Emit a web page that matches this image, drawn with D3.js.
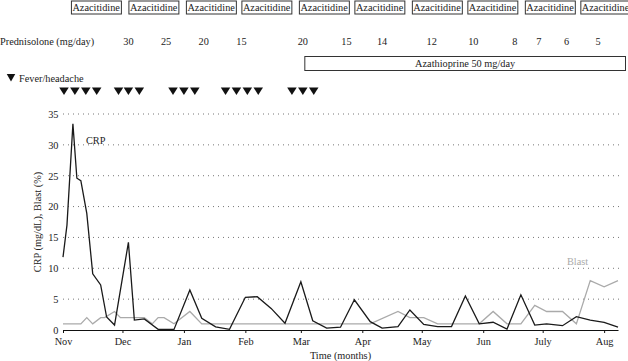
<!DOCTYPE html>
<html>
<head>
<meta charset="utf-8">
<script src="https://cdn.jsdelivr.net/npm/d3@7"></script>
<style>
  body { margin: 0; background: #fff; }
  svg text { font-family: "Liberation Serif", "DejaVu Serif", serif; }
</style>
</head>
<body>
<svg id="chart" width="628" height="361"></svg>
<script>
// CRP (mg/dL) readings
const crpDates = [
  "2013-11-01", "2013-11-03", "2013-11-06", "2013-11-08", "2013-11-10", "2013-11-13",
  "2013-11-16", "2013-11-20", "2013-11-23", "2013-11-27", "2013-12-04", "2013-12-07",
  "2013-12-12", "2013-12-19", "2013-12-27", "2014-01-04", "2014-01-10", "2014-01-17",
  "2014-01-24", "2014-02-01", "2014-02-07", "2014-02-14", "2014-02-21", "2014-03-01",
  "2014-03-07", "2014-03-14", "2014-03-21", "2014-03-28", "2014-04-05", "2014-04-11",
  "2014-04-19", "2014-04-25", "2014-05-02", "2014-05-09", "2014-05-16", "2014-05-23",
  "2014-05-30", "2014-06-06", "2014-06-13", "2014-06-20", "2014-06-27", "2014-07-03",
  "2014-07-11", "2014-07-18", "2014-07-25", "2014-08-01", "2014-08-08"
];
const crpValues = [
  11.8, 17, 33.4, 24.6, 24.2, 18.9,
  9.1, 7.3, 2.1, 0.8, 14.2, 1.6,
  1.8, 0.1, 0.1, 6.5, 1.9, 0.5,
  0.1, 5.3, 5.4, 3.5, 1.1, 7.8,
  1.5, 0.3, 0.45, 4.9, 1.35, 0.3,
  0.55, 3.25, 0.9, 0.55, 0.55, 5.5,
  1.0, 1.25, 0.15, 5.7, 0.8, 1.0,
  0.7, 2.15, 1.6, 1.25, 0.45
];

// Blast (%) readings
const blastDates = [
  "2013-11-01", "2013-11-10", "2013-11-13", "2013-11-16", "2013-11-20", "2013-11-22",
  "2013-11-27", "2013-11-30", "2013-12-07", "2013-12-12", "2013-12-16", "2013-12-19",
  "2013-12-22", "2013-12-27", "2014-01-04", "2014-01-10", "2014-04-05", "2014-04-19",
  "2014-04-25", "2014-05-02", "2014-05-09", "2014-05-30", "2014-06-06", "2014-06-13",
  "2014-06-20", "2014-06-27", "2014-07-03", "2014-07-11", "2014-07-18", "2014-07-25",
  "2014-08-01", "2014-08-08"
];
const blastValues = [
  1, 1, 2, 1, 2, 2,
  3, 2, 2, 2, 1, 2,
  2, 1, 3, 1, 1, 3,
  2, 2, 1, 1, 3, 1,
  1, 4, 3, 3, 1, 8,
  7, 8
];

// Azacitidine cycles (start dates)
const azacitidineStarts = [
  "2013-11-05", "2013-12-04", "2014-01-02", "2014-01-30", "2014-02-28",
  "2014-03-28", "2014-04-26", "2014-05-24", "2014-06-22", "2014-07-20"
];

// Prednisolone dose changes
const prednisoloneDates = [
  "2013-12-04", "2013-12-23", "2014-01-11", "2014-01-30", "2014-03-02", "2014-03-24",
  "2014-04-11", "2014-05-06", "2014-05-27", "2014-06-17", "2014-06-29", "2014-07-13",
  "2014-07-29"
];
const prednisoloneDoses = [30, 25, 20, 15, 20, 15, 14, 12, 10, 8, 7, 6, 5];

const azathioprineStart = "2014-03-03";
const azathioprineLabel = "Azathioprine 50 mg/day";

// Fever/headache episodes
const feverDates = [
  "2013-11-01T12", "2013-11-07T00", "2013-11-12T12", "2013-11-18T00",
  "2013-11-29T00", "2013-12-04T00", "2013-12-09T12",
  "2013-12-26T12", "2014-01-01T00", "2014-01-06T12",
  "2014-01-22T00", "2014-01-27T12", "2014-02-02T00", "2014-02-07T12",
  "2014-02-24T12", "2014-03-02T00", "2014-03-07T12"
];

const monthLabels = ["Nov", "Dec", "Jan", "Feb", "Mar", "Apr", "May", "Jun", "July", "Aug"];
const yTicks = [0, 5, 10, 15, 20, 25, 30, 35];

const parseDay = d3.timeParse("%Y-%m-%d");
const parseHour = d3.timeParse("%Y-%m-%dT%H");
const parseDate = (s) => (s.length > 10 ? parseHour(s) : parseDay(s));

const TEXT = "#222";
const FONT = '"Liberation Serif", "DejaVu Serif", serif';

function drawChart() {
  const svg = d3.select("#chart");
  const width = +svg.attr("width");

  const x = d3
    .scaleTime()
    .domain([parseDate("2013-11-01"), parseDate("2014-08-08")])
    .range([63, 618]);
  const y = d3.scaleLinear().domain([0, 35]).range([330, 114]);

  // dotted gridlines
  svg
    .append("g")
    .selectAll("line")
    .data(yTicks.filter((d) => d > 0))
    .enter()
    .append("line")
    .attr("x1", x.range()[0])
    .attr("x2", 621)
    .attr("y1", (d) => y(d))
    .attr("y2", (d) => y(d))
    .attr("stroke", "#777")
    .attr("stroke-width", 1)
    .attr("stroke-dasharray", "1,4");

  // y axis (labels only)
  const yAxis = svg
    .append("g")
    .attr("transform", `translate(${x.range()[0]},0)`)
    .call(d3.axisLeft(y).tickValues(yTicks).tickSize(0).tickPadding(4.5))
    .attr("font-family", FONT)
    .attr("font-size", 10.3);
  yAxis.select(".domain").remove();
  yAxis.selectAll("text").attr("fill", TEXT);

  // x axis
  const monthTicks = d3.timeMonth.range(parseDate("2013-11-01"), parseDate("2014-08-02"));
  const xAxis = svg
    .append("g")
    .attr("transform", `translate(0,${y(0)})`)
    .call(
      d3
        .axisBottom(x)
        .tickValues(monthTicks)
        .tickFormat((d, i) => monthLabels[i])
        .tickSize(3)
        .tickSizeOuter(0)
        .tickPadding(5)
    )
    .attr("font-family", FONT)
    .attr("font-size", 10.3);
  xAxis.select(".domain").attr("stroke", "#111").attr("stroke-width", 1.2);
  xAxis.selectAll(".tick line").attr("stroke", "#111");
  xAxis.selectAll("text").attr("fill", TEXT);

  svg
    .append("text")
    .attr("x", (x.range()[0] + x.range()[1]) / 2)
    .attr("y", 359)
    .attr("text-anchor", "middle")
    .attr("fill", TEXT)
    .style("font-size", "10.3px")
    .text("Time (months)");

  svg
    .append("text")
    .attr("transform", "translate(41,222) rotate(-90)")
    .attr("text-anchor", "middle")
    .attr("fill", TEXT)
    .style("font-size", "10.3px")
    .text("CRP (mg/dL), Blast (%)");

  // series
  const line = d3
    .line()
    .x((d) => x(d.date))
    .y((d) => y(d.value));

  const blast = blastDates.map((d, i) => ({ date: parseDate(d), value: blastValues[i] }));
  const crp = crpDates.map((d, i) => ({ date: parseDate(d), value: crpValues[i] }));

  svg
    .append("path")
    .datum(blast)
    .attr("fill", "none")
    .attr("stroke", "#aaa")
    .attr("stroke-width", 1.3)
    .attr("d", line);

  svg
    .append("path")
    .datum(crp)
    .attr("fill", "none")
    .attr("stroke", "#1a1a1a")
    .attr("stroke-width", 1.3)
    .attr("d", line);

  svg
    .append("text")
    .attr("x", 86)
    .attr("y", 143.5)
    .attr("fill", TEXT)
    .style("font-size", "10.3px")
    .text("CRP");

  svg
    .append("text")
    .attr("x", 567)
    .attr("y", 265)
    .attr("fill", "#aaa")
    .style("font-size", "10.3px")
    .text("Blast");

  // Azacitidine boxes
  const aza = svg
    .append("g")
    .selectAll("g")
    .data(azacitidineStarts)
    .enter()
    .append("g")
    .attr("transform", (d) => `translate(${x(parseDate(d))},0)`);

  aza
    .append("text")
    .attr("x", 1.5)
    .attr("y", 11)
    .attr("fill", TEXT)
    .style("font-size", "10.3px")
    .text("Azacitidine");

  aza.each(function () {
    const g = d3.select(this);
    const w = g.select("text").node().getComputedTextLength();
    g.insert("rect", "text")
      .attr("x", 0.5)
      .attr("y", 1)
      .attr("width", w + 2.5)
      .attr("height", 13)
      .attr("fill", "none")
      .attr("stroke", "#333")
      .attr("stroke-width", 1);
  });

  // Prednisolone row
  svg
    .append("text")
    .attr("x", 0)
    .attr("y", 44.5)
    .attr("fill", TEXT)
    .style("font-size", "10.3px")
    .text("Prednisolone (mg/day)");

  svg
    .append("g")
    .selectAll("text")
    .data(prednisoloneDoses)
    .enter()
    .append("text")
    .attr("x", (d, i) => x(parseDate(prednisoloneDates[i])))
    .attr("y", 44.5)
    .attr("text-anchor", "middle")
    .attr("fill", TEXT)
    .style("font-size", "10.3px")
    .text((d) => d);

  // Azathioprine bar
  const azaStartX = x(parseDate(azathioprineStart));
  svg
    .append("rect")
    .attr("x", azaStartX)
    .attr("y", 56.5)
    .attr("width", width - 2.5 - azaStartX)
    .attr("height", 14)
    .attr("fill", "none")
    .attr("stroke", "#333")
    .attr("stroke-width", 1);

  svg
    .append("text")
    .attr("x", (azaStartX + width - 2.5) / 2)
    .attr("y", 67)
    .attr("text-anchor", "middle")
    .attr("fill", TEXT)
    .style("font-size", "10.3px")
    .text(azathioprineLabel);

  // Fever/headache legend and markers
  const tri = (cx, top, w, h) => `M${cx - w / 2},${top}L${cx + w / 2},${top}L${cx},${top + h}Z`;

  svg
    .append("path")
    .attr("d", tri(11, 74, 8.5, 7.5))
    .attr("fill", "#111");

  svg
    .append("text")
    .attr("x", 19)
    .attr("y", 81.5)
    .attr("fill", TEXT)
    .style("font-size", "10.3px")
    .text("Fever/headache");

  svg
    .append("g")
    .selectAll("path")
    .data(feverDates)
    .enter()
    .append("path")
    .attr("d", (d) => tri(x(parseDate(d)), 87.5, 9.5, 7.5))
    .attr("fill", "#111");
}

drawChart();
</script>
</body>
</html>
